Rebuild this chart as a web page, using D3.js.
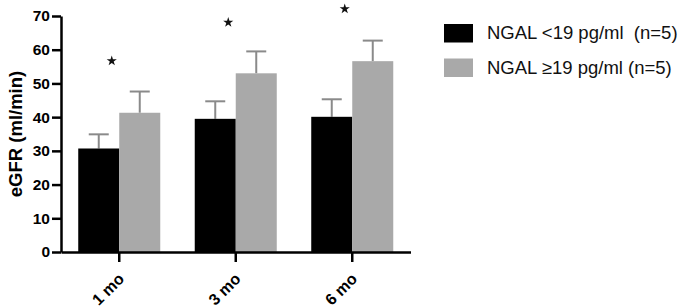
<!DOCTYPE html>
<html><head><meta charset="utf-8">
<script src="https://cdn.jsdelivr.net/npm/d3@7"></script>
<style>body{margin:0;background:#fff}svg{display:block;font-family:"Liberation Sans",Arial,sans-serif}</style>
</head><body><svg id="c" width="685" height="307"></svg>
<script>
const categories = ["1 mo", "3 mo", "6 mo"];
const seriesNames = ["NGAL <19 pg/ml  (n=5)", "NGAL \u226519 pg/ml (n=5)"];
const lowMeans = [30.7, 39.5, 40.1];
const lowErr = [4.2, 5.2, 5.2];
const highMeans = [41.3, 53.0, 56.6];
const highErr = [6.3, 6.5, 6.1];
const starValues = [56.7, 68.1, 72.1];
const yTicks = [0, 10, 20, 30, 40, 50, 60, 70];
const colors = ["#000000", "#a9a9a9"];

const svg = d3.select("#c");
const x0 = d3.scaleBand().domain(categories).range([61, 410.5]).paddingInner(0.296).paddingOuter(0.148);
const x1 = d3.scaleBand().domain([0, 1]).range([0, x0.bandwidth()]);
const y = d3.scaleLinear().domain([0, 70]).range([252, 16]);

const data = categories.map((c, i) => ({c, vals: [
  {s: 0, v: lowMeans[i], e: lowErr[i]},
  {s: 1, v: highMeans[i], e: highErr[i]}]}));

const g = svg.selectAll("g.grp").data(data).join("g").attr("class", "grp")
  .attr("transform", d => `translate(${x0(d.c)},0)`);
g.selectAll("line.err").data(d => d.vals).join("line")
  .attr("x1", d => x1(d.s) + x1.bandwidth()/2).attr("x2", d => x1(d.s) + x1.bandwidth()/2)
  .attr("y1", d => y(d.v)).attr("y2", d => y(d.v + d.e))
  .attr("stroke", "#8a8a8a").attr("stroke-width", 2);
g.selectAll("line.cap").data(d => d.vals).join("line")
  .attr("x1", d => x1(d.s) + x1.bandwidth()/2 - 10).attr("x2", d => x1(d.s) + x1.bandwidth()/2 + 10)
  .attr("y1", d => y(d.v + d.e)).attr("y2", d => y(d.v + d.e))
  .attr("stroke", "#8a8a8a").attr("stroke-width", 2);
g.selectAll("rect").data(d => d.vals).join("rect")
  .attr("x", d => x1(d.s)).attr("width", x1.bandwidth())
  .attr("y", d => y(d.v)).attr("height", d => y(0) - y(d.v))
  .attr("fill", d => colors[d.s]);

svg.selectAll("path.star").data(categories).join("path").attr("class", "star")
  .attr("d", d3.symbol(d3.symbolStar, 32))
  .attr("transform", (d, i) => `translate(${x0(d) + x0.bandwidth()/2 - 7.5},${y(starValues[i])})`)
  .attr("fill", "#111");

const yAxis = svg.append("g").attr("transform", "translate(61,0)")
  .call(d3.axisLeft(y).tickValues(yTicks).tickSize(9).tickPadding(2).tickSizeOuter(0));
yAxis.select(".domain").attr("stroke-width", 2.5);
yAxis.selectAll(".tick line").attr("stroke-width", 2.5);
yAxis.selectAll("text").attr("font-size", 15.5).attr("font-weight", "bold").attr("font-family", "Liberation Sans, Arial").attr("fill", "#000");

const xAxis = svg.append("g").attr("transform", "translate(0,252)")
  .call(d3.axisBottom(x0).tickSize(10).tickSizeOuter(0).tickPadding(4));
xAxis.select(".domain").attr("stroke-width", 2.5);
xAxis.selectAll(".tick line").attr("stroke-width", 2.5);
xAxis.selectAll("text").attr("font-size", 16).attr("font-weight", "bold").attr("font-family", "Liberation Sans, Arial").attr("fill", "#000")
  .attr("text-anchor", "end").attr("dy", "0.7em").attr("transform", "translate(-2,20) rotate(-45)").attr("y", 0).attr("x", 0);

svg.append("text").attr("transform", `translate(22,${(y(0)+y(70))/2}) rotate(-90)`)
  .attr("text-anchor", "middle").attr("font-size", 18.5).attr("font-weight", "bold").text("eGFR (ml/min)");

const lg = svg.selectAll("g.leg").data(seriesNames).join("g").attr("class", "leg")
  .attr("transform", (d, i) => `translate(444,${24 + i*34.5})`);
lg.append("rect").attr("width", 29).attr("height", 18.5).attr("fill", (d, i) => colors[i]);
lg.append("text").attr("x", 43).attr("y", 15).attr("font-size", 18.5).attr("fill", "#111")
  .style("white-space", "pre").text(d => d);
</script></body></html>
